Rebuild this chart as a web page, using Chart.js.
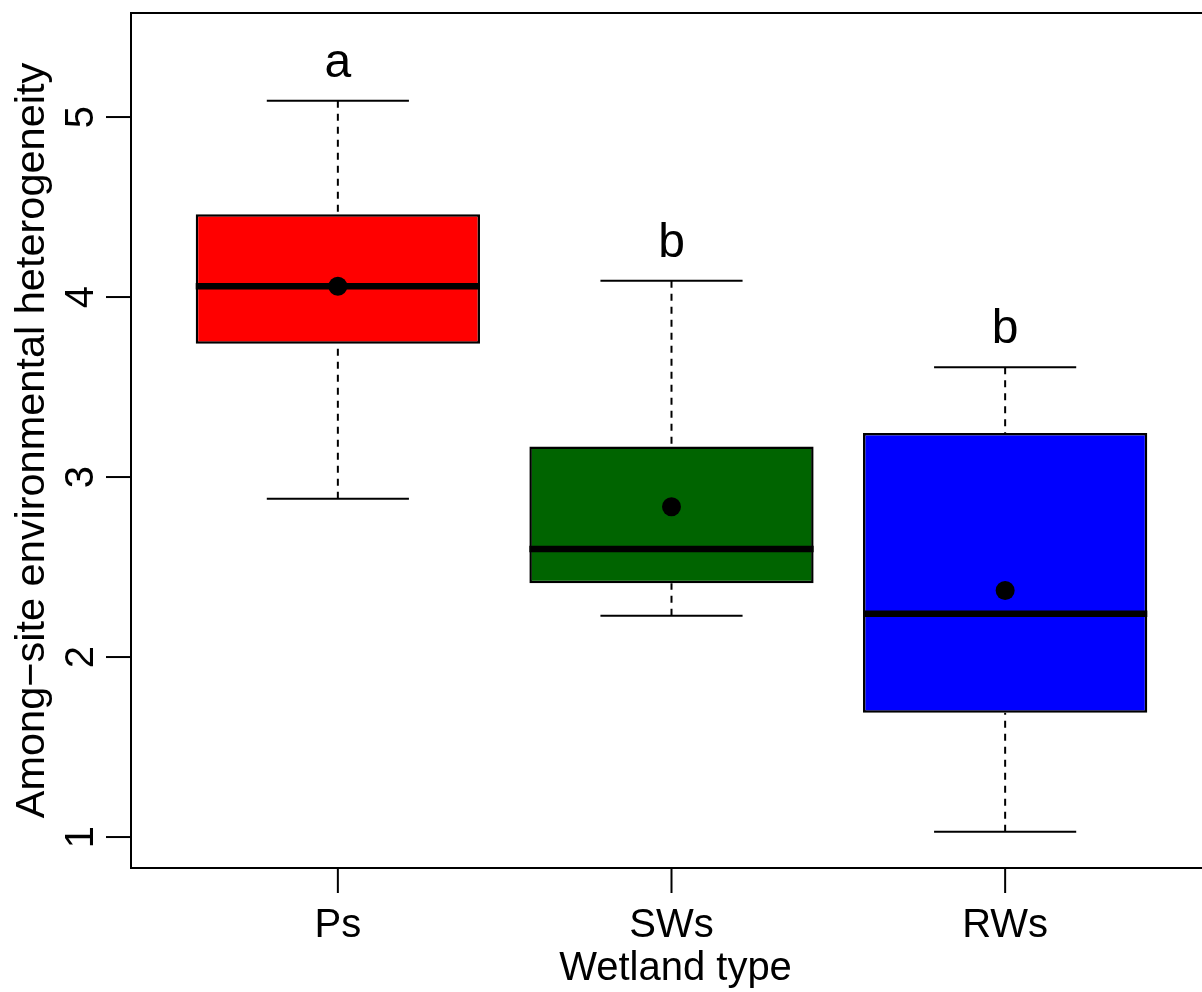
<!DOCTYPE html>
<html>
<head>
<meta charset="utf-8">
<script src="https://cdn.jsdelivr.net/npm/chart.js@4/dist/chart.umd.min.js"></script>
<style>
  html, body { margin: 0; padding: 0; background: #fff; overflow: hidden; }
  .wrap { width: 1202px; height: 992px; overflow: hidden; }
</style>
</head>
<body>
<div class="wrap">
  <canvas id="boxChart" width="1226" height="992"></canvas>
</div>
<script>
// wetland groups and box statistics
const groups = ['Ps', 'SWs', 'RWs'];
const lowWhisker = [2.88, 2.23, 1.03];
const q1 = [3.74, 2.41, 1.69];
const median = [4.06, 2.60, 2.24];
const q3 = [4.46, 3.17, 3.245];
const highWhisker = [5.09, 4.09, 3.61];
const means = [4.06, 2.835, 2.37];
const letters = ['a', 'b', 'b'];
const yTicks = [1, 2, 3, 4, 5];

const FONT = '"Liberation Sans", Arial, Helvetica, sans-serif';

function seg(ctx, x1, y1, x2, y2) {
    ctx.beginPath();
    ctx.moveTo(x1, y1);
    ctx.lineTo(x2, y2);
    ctx.stroke();
}

// whiskers, caps, medians, frame, tick marks and all the text
const boxExtras = {
    id: 'boxExtras',
    afterDatasetDraw(chart, args) {
        if (args.index !== 0) return;
        const ctx = chart.ctx;
        const x = chart.scales.x;
        const y = chart.scales.y;
        const bars = chart.getDatasetMeta(0).data;
        ctx.save();
        ctx.strokeStyle = '#000';
        groups.forEach((g, i) => {
            const cx = x.getPixelForValue(i + 1);
            const half = bars[i].width / 2;
            const yHi = y.getPixelForValue(highWhisker[i]);
            const yLo = y.getPixelForValue(lowWhisker[i]);
            // dashed whiskers
            ctx.lineWidth = 2;
            ctx.setLineDash([7, 6]);
            seg(ctx, cx, yHi, cx, y.getPixelForValue(q3[i]));
            seg(ctx, cx, yLo, cx, y.getPixelForValue(q1[i]));
            ctx.setLineDash([]);
            // staples
            seg(ctx, cx - half / 2, yHi, cx + half / 2, yHi);
            seg(ctx, cx - half / 2, yLo, cx + half / 2, yLo);
            // median
            ctx.lineWidth = 6.5;
            const ym = y.getPixelForValue(median[i]);
            seg(ctx, cx - half, ym, cx + half, ym);
        });
        ctx.restore();
    },
    afterDraw(chart) {
        const ctx = chart.ctx;
        const area = chart.chartArea;
        const x = chart.scales.x;
        const y = chart.scales.y;
        ctx.save();
        // plot frame
        ctx.strokeStyle = '#000';
        ctx.lineWidth = 2;
        ctx.strokeRect(area.left, area.top, area.right - area.left, area.bottom - area.top);

        // tick marks
        x.ticks.forEach((t) => {
            const px = x.getPixelForValue(t.value);
            seg(ctx, px, area.bottom, px, area.bottom + 25);
        });
        y.ticks.forEach((t) => {
            const py = y.getPixelForValue(t.value);
            seg(ctx, area.left, py, area.left - 25, py);
        });

        ctx.fillStyle = '#000';
        ctx.font = '40px ' + FONT;
        ctx.textAlign = 'center';
        ctx.textBaseline = 'alphabetic';

        // y tick labels (rotated, like R's default)
        yTicks.forEach((v) => {
            ctx.save();
            ctx.translate(93, y.getPixelForValue(v));
            ctx.rotate(-Math.PI / 2);
            ctx.fillText(String(v), 0, 0);
            ctx.restore();
        });

        // x tick labels
        groups.forEach((g, i) => {
            ctx.fillText(g, x.getPixelForValue(i + 1), 937);
        });

        // axis titles
        ctx.fillText('Wetland type', (area.left + area.right) / 2 + 4, 980);
        ctx.save();
        ctx.font = '41.5px ' + FONT;
        ctx.translate(44, (area.top + area.bottom) / 2);
        ctx.rotate(-Math.PI / 2);
        ctx.fillText('Among\u2212site environmental heterogeneity', 0, 0);
        ctx.restore();

        // significance letters above the upper whiskers
        ctx.font = '48px ' + FONT;
        letters.forEach((l, i) => {
            ctx.fillText(l, x.getPixelForValue(i + 1), y.getPixelForValue(highWhisker[i]) - 24);
        });
        ctx.restore();
    }
};

const ctx = document.getElementById('boxChart');

new Chart(ctx, {
    type: 'bar',
    data: {
        datasets: [{
            type: 'bar',
            label: 'IQR',
            data: groups.map((g, i) => ({ x: i + 1, y: [q1[i], q3[i]] })),
            backgroundColor: ['#ff0000', '#006400', '#0000ff'],
            borderColor: '#000',
            borderWidth: 2.5,
            borderSkipped: false,
            categoryPercentage: 1,
            barPercentage: 0.852,
            order: 2
        }, {
            type: 'scatter',
            label: 'Mean',
            data: groups.map((g, i) => ({ x: i + 1, y: means[i] })),
            backgroundColor: '#000',
            borderWidth: 0,
            pointRadius: 9.5,
            order: 1
        }]
    },
    options: {
        responsive: false,
        animation: false,
        layout: { padding: { top: 13, right: 14, bottom: 0, left: 0 } },
        plugins: {
            legend: { display: false },
            tooltip: { enabled: false }
        },
        scales: {
            x: {
                type: 'linear',
                min: 0.38,
                max: 3.62,
                offset: false,
                border: { display: false },
                grid: { display: false, offset: false },
                ticks: { display: false, stepSize: 1, includeBounds: false },
                afterFit: (scale) => { scale.height = 124; }
            },
            y: {
                type: 'linear',
                min: 0.828,
                max: 5.578,
                border: { display: false },
                grid: { display: false },
                ticks: { display: false, stepSize: 1, includeBounds: false },
                afterFit: (scale) => { scale.width = 131; }
            }
        }
    },
    plugins: [boxExtras]
});
</script>
</body>
</html>
